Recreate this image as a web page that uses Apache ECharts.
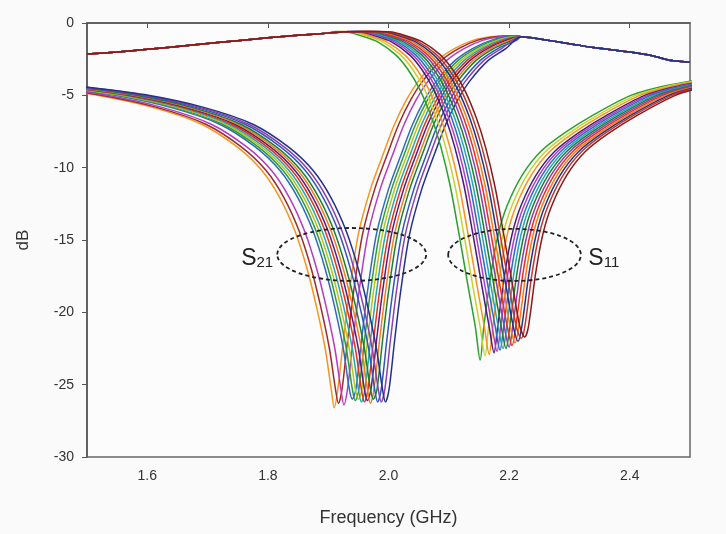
<!DOCTYPE html>
<html>
<head>
<meta charset="utf-8">
<script src="https://cdn.jsdelivr.net/npm/echarts@6/dist/echarts.min.js"></script>
<style>
  html, body { margin: 0; padding: 0; background: #fafafa; }
  #chart { width: 726px; height: 534px; }
</style>
</head>
<body>
<div id="chart"></div>
<script>
// Frequency axis (GHz) and level axis (dB)
const freqMin = 1.5, freqMax = 2.5;
const freqTicks = [1.6, 1.8, 2.0, 2.2, 2.4];
const dbMin = -30, dbMax = 0, dbStep = 5;

// S21 notch profile: [offset from resonance (GHz), dB]; the 0 offset takes the measured depth
const s21Profile = [
  [-0.60, -4.0], [-0.50, -4.4], [-0.40, -4.95], [-0.30, -5.85], [-0.22, -7.0],
  [-0.16, -8.6], [-0.12, -10.2], [-0.09, -12.1], [-0.065, -14.4], [-0.045, -17.0],
  [-0.03, -19.5], [-0.015, -22.5], [-0.005, -25.3], [0, null], [0.006, -25.3],
  [0.015, -22.0], [0.025, -18.6], [0.04, -14.6], [0.06, -11.5], [0.08, -9.2],
  [0.10, -7.0], [0.12, -5.3], [0.14, -4.0], [0.17, -2.6], [0.20, -1.75],
  [0.23, -1.2], [0.26, -0.95], [0.29, -0.88]
];
// shared S21 trace above 2.2 GHz
const s21TailFreq = [2.22, 2.25, 2.28, 2.31, 2.34, 2.37, 2.40, 2.43, 2.45, 2.47, 2.50];
const s21TailDb   = [-0.95, -1.1, -1.3, -1.5, -1.7, -1.85, -2.0, -2.2, -2.4, -2.6, -2.72];
// resonance frequency and depth of each S21 trace
const s21Resonance = [1.910, 1.917, 1.926, 1.940, 1.945, 1.950, 1.955, 1.960, 1.965, 1.970, 1.975, 1.982, 1.988, 1.995];
const s21Depth     = [-26.6, -26.3, -26.4, -26.0, -26.1, -26.0, -26.2, -26.2, -26.1, -26.3, -26.0, -26.2, -26.2, -26.2];

// S11 notch profile: [offset from resonance (GHz), dB]
const s11Profile = [
  [-0.24, -0.58], [-0.22, -0.62], [-0.20, -0.85], [-0.17, -1.3], [-0.14, -2.2],
  [-0.12, -3.2], [-0.10, -4.6], [-0.08, -6.6], [-0.065, -8.6], [-0.05, -11.2],
  [-0.035, -14.6], [-0.02, -18.2], [-0.008, -21.0], [0, null], [0.006, -21.0],
  [0.018, -17.3], [0.03, -14.6], [0.045, -12.6], [0.07, -10.5], [0.10, -8.9],
  [0.14, -7.6], [0.19, -6.3], [0.25, -5.0], [0.30, -4.4], [0.35, -4.0], [0.40, -3.7]
];
// shared S11 trace below 1.93 GHz
const s11HeadFreq = [1.50, 1.55, 1.60, 1.65, 1.70, 1.75, 1.80, 1.85, 1.90, 1.93];
const s11HeadDb   = [-2.15, -2.0, -1.82, -1.62, -1.42, -1.22, -1.02, -0.85, -0.7, -0.6];
const s11Resonance = [2.152, 2.160, 2.167, 2.175, 2.180, 2.185, 2.190, 2.195, 2.200, 2.205, 2.210, 2.215, 2.220, 2.226];
const s11Depth     = [-23.3, -23.0, -22.9, -22.8, -22.7, -22.6, -22.5, -22.5, -22.4, -22.3, -22.1, -22.0, -21.8, -21.7];

const s21Colors = ['#f7931e', '#9e2a2b', '#b43cc0', '#2e6bbf', '#2a9d3a', '#b8c21e', '#27a6b0',
                   '#e4321b', '#5e1b78', '#ee7f1a', '#1e7d32', '#3057b5', '#8e3fae', '#23318a'];
const s11Colors = ['#2ba02b', '#c8d22a', '#f7931e', '#4a1a7a', '#b43cc0', '#2e6bbf', '#27a6b0',
                   '#1e7d32', '#8e3fae', '#e4321b', '#ee7f1a', '#23318a', '#c0392b', '#8b1a1a'];

function s21Trace(i) {
  const f0 = s21Resonance[i];
  const tailStart = s21TailFreq[0];
  const pts = s21Profile
    .map(([df, db]) => [f0 + df, db === null ? s21Depth[i] : db])
    .filter(p => p[0] < tailStart - 0.004);
  s21TailFreq.forEach((f, k) => pts.push([f, s21TailDb[k]]));
  return pts;
}

function s11Trace(i) {
  const f0 = s11Resonance[i];
  const start = f0 + s11Profile[0][0];
  const pts = [];
  s11HeadFreq.forEach((f, k) => { if (f < start - 0.004) pts.push([f, s11HeadDb[k]]); });
  s11Profile.forEach(([df, db]) => pts.push([f0 + df, db === null ? s11Depth[i] : db]));
  return pts;
}

const series = [];
s21Resonance.forEach((_, i) => series.push({
  name: 'S21-' + (i + 1), type: 'line', data: s21Trace(i), showSymbol: false,
  smooth: 0.3, clip: true, lineStyle: { color: s21Colors[i], width: 1.5 }, silent: true
}));
s11Resonance.forEach((_, i) => series.push({
  name: 'S11-' + (i + 1), type: 'line', data: s11Trace(i), showSymbol: false,
  smooth: 0.3, clip: true, lineStyle: { color: s11Colors[i], width: 1.5 }, silent: true
}));

const chart = echarts.init(document.getElementById('chart'), null, { renderer: 'canvas' });
const textColor = '#333';
const fontFamily = '"Liberation Sans", Arial, sans-serif';

chart.setOption({
  backgroundColor: '#fafafa',
  animation: false,
  grid: { left: 87, right: 36, top: 23, bottom: 77, show: true, borderColor: '#666', borderWidth: 1.5, backgroundColor: '#fcfcfc' },
  xAxis: {
    type: 'value', min: freqMin, max: freqMax,
    name: 'Frequency (GHz)', nameLocation: 'middle', nameGap: 52,
    nameTextStyle: { fontSize: 18, color: textColor, fontFamily },
    axisLine: { show: true, lineStyle: { color: '#555', width: 1.5 } },
    axisTick: { show: true, inside: false, length: 5, customValues: freqTicks, lineStyle: { color: '#555' } },
    axisLabel: { customValues: freqTicks, formatter: v => v.toFixed(1), fontSize: 14, color: textColor, margin: 12, fontFamily },
    splitLine: { show: false }
  },
  yAxis: {
    type: 'value', min: dbMin, max: dbMax, interval: dbStep,
    name: 'dB', nameLocation: 'middle', nameGap: 55, nameRotate: 90,
    nameTextStyle: { fontSize: 17, color: textColor, fontFamily },
    axisLine: { show: true, lineStyle: { color: '#555', width: 1.5 } },
    axisTick: { show: true, inside: false, length: 5, lineStyle: { color: '#555' } },
    axisLabel: { fontSize: 14, color: textColor, margin: 13, fontFamily },
    splitLine: { show: false }
  },
  series
});

// Dashed ellipses grouping each family, and their S-parameter labels
const groups = [
  { center: [1.939, -16.0], rx: 0.1235, ry: 1.83, label: '{s|S}{n|21}', at: [1.8088, -16.17], align: 'right' },
  { center: [2.209, -16.03], rx: 0.110, ry: 1.8, label: '{s|S}{n|11}', at: [2.3314, -16.17], align: 'left' }
];
const graphics = [];
groups.forEach(g => {
  const c = chart.convertToPixel({ gridIndex: 0 }, g.center);
  const e = chart.convertToPixel({ gridIndex: 0 }, [g.center[0] + g.rx, g.center[1] - g.ry]);
  graphics.push({
    type: 'ellipse', silent: true, z: 100,
    shape: { cx: c[0], cy: c[1], rx: Math.abs(e[0] - c[0]), ry: Math.abs(e[1] - c[1]) },
    style: { fill: 'none', stroke: '#222', lineWidth: 1.8, lineDash: [4, 3] }
  });
  const t = chart.convertToPixel({ gridIndex: 0 }, g.at);
  graphics.push({
    type: 'text', silent: true, z: 100, x: t[0], y: t[1],
    style: {
      text: g.label, align: g.align, verticalAlign: 'middle',
      rich: {
        s: { fontSize: 23, fill: '#222', fontFamily, lineHeight: 26, verticalAlign: 'bottom' },
        n: { fontSize: 15, fill: '#222', fontFamily, lineHeight: 16, verticalAlign: 'bottom' }
      }
    }
  });
});
chart.setOption({ graphic: graphics });
</script>
</body>
</html>
